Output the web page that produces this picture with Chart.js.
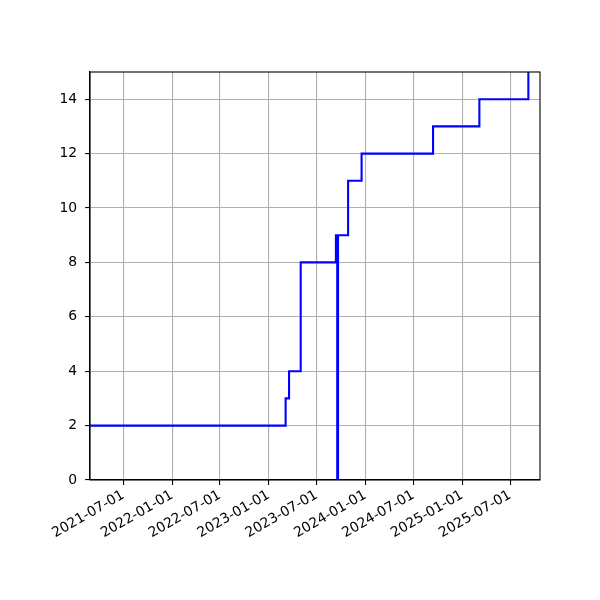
<!DOCTYPE html>
<html>
<head>
<meta charset="utf-8">
<script src="https://cdn.jsdelivr.net/npm/chart.js@4.4.1/dist/chart.umd.min.js"></script>
<style>
  html, body { margin: 0; padding: 0; background: #fff; }
  #wrap { width: 600px; height: 600px; }
</style>
</head>
<body>
<div id="wrap"><canvas id="stepChart" width="600" height="600"></canvas></div>
<script>
// step series: the value holds from each date until the next one
var dates = ['2021-02-20', '2023-03-06', '2023-03-19', '2023-05-02', '2023-09-12', '2023-09-17',
             '2023-09-20', '2023-10-28', '2023-12-18', '2024-09-13', '2025-03-07', '2025-09-08'];
var counts = [2, 3, 4, 8, 9, 0, 9, 11, 12, 13, 14, 15];

var xTickLabels = ['2021-07-01', '2022-01-01', '2022-07-01', '2023-01-01', '2023-07-01',
                   '2024-01-01', '2024-07-01', '2025-01-01', '2025-07-01'];
var yTickValues = [0, 2, 4, 6, 8, 10, 12, 14];
var xRange = ['2021-02-25', '2025-10-22'];
var yRange = [0, 15];

function toTime(s) { return Date.parse(s + 'T00:00:00Z'); }
function fmtDate(v) { return new Date(v).toISOString().slice(0, 10); }

var points = dates.map(function (d, i) { return { x: toTime(d), y: counts[i] }; });

Chart.defaults.font.family = 'DejaVu Sans';
Chart.defaults.font.size = 13.9;
Chart.defaults.color = '#000';

// matplotlib-like frame around the plot area
var framePlugin = {
  id: 'frame',
  afterDatasetsDraw: function (chart) {
    var a = chart.chartArea, ctx = chart.ctx;
    ctx.save();
    ctx.strokeStyle = '#000';
    ctx.lineWidth = 1.1;
    ctx.strokeRect(a.left, a.top, a.right - a.left, a.bottom - a.top);
    ctx.restore();
  }
};

var ctx = document.getElementById('stepChart').getContext('2d');
var myChart = new Chart(ctx, {
  type: 'line',
  data: {
    datasets: [{
      data: points,
      borderColor: '#0000ff',
      borderWidth: 2.08,
      pointRadius: 0,
      stepped: 'before',
      fill: false
    }]
  },
  options: {
    responsive: false,
    animation: false,
    layout: { padding: { top: 72, right: 60, left: 0, bottom: 0 } },
    plugins: { legend: { display: false }, tooltip: { enabled: false } },
    scales: {
      x: {
        type: 'linear',
        min: toTime(xRange[0]),
        max: toTime(xRange[1]),
        afterBuildTicks: function (scale) {
          scale.ticks = xTickLabels.map(function (s) { return { value: toTime(s) }; });
        },
        afterFit: function (scale) { scale.height = 120; },
        ticks: {
          autoSkip: false,
          minRotation: 30,
          maxRotation: 30,
          padding: 2,
          callback: function (v) { return fmtDate(v); }
        },
        grid: { color: '#b0b0b0', lineWidth: 1.1, tickColor: '#000', tickLength: 4.9 },
        border: { color: '#000', width: 1.1 }
      },
      y: {
        min: yRange[0],
        max: yRange[1],
        afterBuildTicks: function (scale) {
          scale.ticks = yTickValues.map(function (v) { return { value: v }; });
        },
        afterFit: function (scale) { scale.width = 90; },
        ticks: { padding: 8 },
        grid: { color: '#b0b0b0', lineWidth: 1.1, tickColor: '#000', tickLength: 4.9 },
        border: { color: '#000', width: 1.1 }
      }
    }
  },
  plugins: [framePlugin]
});
</script>
</body>
</html>
